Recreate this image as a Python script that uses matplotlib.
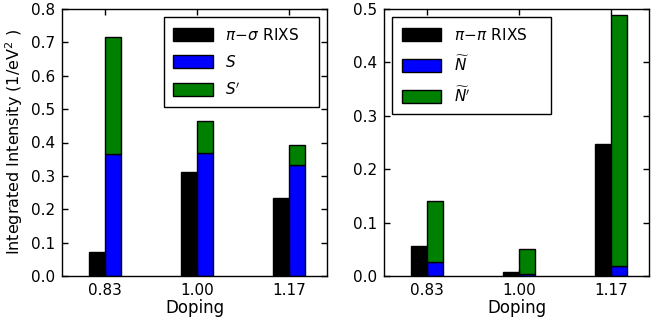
import matplotlib
matplotlib.use("Agg")
import matplotlib.pyplot as plt

doping = [0.83, 1.00, 1.17]
tick_labels = ["0.83", "1.00", "1.17"]

# left panel
rixs_ps = [0.072, 0.311, 0.233]
S = [0.365, 0.368, 0.332]
S_prime = [0.352, 0.096, 0.060]

# right panel
rixs_pp = [0.057, 0.008, 0.247]
N = [0.027, 0.003, 0.019]
N_prime = [0.113, 0.048, 0.470]

plt.rcParams['font.family'] = ['DejaVu Sans']
plt.rcParams['font.size'] = 10

fig = plt.figure(figsize=(6.51, 3.26), dpi=100)
ax1 = fig.add_axes([62/651, 50/326, 265/651, 267/326])
ax2 = fig.add_axes([384/651, 50/326, 265/651, 267/326])

w = 0.03
blk = '#000000'
blu = '#0000ff'
grn = '#008000'

def panel(ax, rixs, a, b, labels, ylim, yticks, loc):
    left = [d - w for d in doping]
    ax.bar(left, rixs, width=w, align='edge', color=blk, edgecolor='k', linewidth=1, label=labels[0])
    ax.bar(doping, a, width=w, align='edge', color=blu, edgecolor='k', linewidth=1, label=labels[1])
    ax.bar(doping, b, width=w, bottom=a, align='edge', color=grn, edgecolor='k', linewidth=1, label=labels[2])
    ax.set_xlim(0.75, 1.24)
    ax.set_ylim(*ylim)
    ax.set_yticks(yticks)
    ax.set_xticks(doping)
    ax.set_xticklabels(tick_labels)
    ax.tick_params(direction='in', top=True, right=True, length=4, width=1, labelsize=11, pad=5)
    for s in ax.spines.values():
        s.set_linewidth(1)
    ax.set_xlabel("Doping", fontsize=12, labelpad=1)
    leg = ax.legend(loc=loc, fancybox=False, framealpha=1, edgecolor='k',
                    handlelength=2.6, handleheight=0.9, handletextpad=0.8,
                    labelspacing=0.75, borderpad=0.6, borderaxespad=0.55, fontsize=11)
    leg.get_frame().set_linewidth(1)

panel(ax1, rixs_ps, S, S_prime, [r"$\pi\!-\!\sigma$ RIXS   ", r"$S$", r"$S'$"],
      (0, 0.8), [0.0, 0.1, 0.2, 0.3, 0.4, 0.5, 0.6, 0.7, 0.8], 'upper right')
panel(ax2, rixs_pp, N, N_prime, [r"$\pi\!-\!\pi$ RIXS    ", r"$\widetilde{N}$", r"$\widetilde{N}'$"],
      (0, 0.5), [0.0, 0.1, 0.2, 0.3, 0.4, 0.5], 'upper left')
ax1.set_ylabel(r"Integrated Intensity (1/eV$^2$ )", fontsize=11.5)

fig.savefig("out.png", dpi=100)
